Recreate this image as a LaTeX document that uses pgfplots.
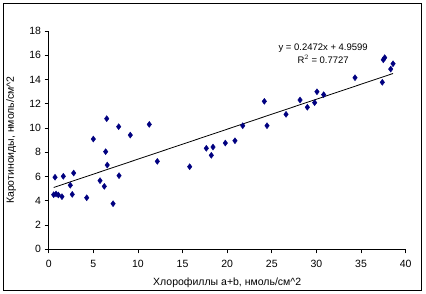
\documentclass[border=0pt]{standalone}
\usepackage{fontspec}
\setmainfont{Liberation Sans}
\usepackage{pgfplots}
\pgfplotsset{compat=1.18}
\definecolor{navy}{RGB}{0,0,128}
\begin{document}
\fontsize{10.5bp}{12bp}\selectfont
\begin{tikzpicture}
\begin{axis}[
  scale only axis,
  width=357bp, height=218.3bp,
  xmin=0, xmax=40, ymin=0, ymax=18,
  xtick={0,5,...,40}, ytick={0,2,...,18},
  axis lines*=left,
  axis line style={line width=0.8bp},
  tick align=outside,
  major tick length=4bp,
  tick style={black, line width=0.8bp},
  /pgf/number format/assume math mode=true,
  ticklabel style={font=\fontsize{10.5bp}{12bp}\selectfont},
  xticklabel style={yshift=-3.5bp},
  label style={font=\fontsize{10.5bp}{12bp}\selectfont},
  every axis x label/.style={at={(axis description cs:0.5,0)}, anchor=center, yshift=-33.7bp},
  every axis y label/.style={at={(axis description cs:0,0.5)}, xshift=-37.5bp, rotate=90, anchor=center},
  xlabel={Хлорофиллы a+b, нмоль/см\textasciicircum 2},
  ylabel={Каротиноиды, нмоль/см\textasciicircum 2},
  clip=false,
]
\addplot[only marks, mark=diamond*, mark size=3bp, color=navy] coordinates {
(0.71,5.94) (1.64,6.02) (2.80,6.29) (2.42,5.28) (0.56,4.50) (0.82,4.56)
(1.08,4.48) (1.49,4.34) (2.64,4.53) (4.26,4.25) (5.00,9.09) (6.50,10.77)
(7.84,10.11) (9.14,9.42) (11.27,10.30) (6.38,8.05) (6.56,6.95) (7.88,6.07)
(5.75,5.66) (6.23,5.19) (7.21,3.76) (12.17,7.25) (15.80,6.81) (17.66,8.33)
(18.41,8.43) (18.22,7.75) (19.79,8.76) (20.87,8.95) (21.74,10.19) (24.16,12.20)
(24.46,10.19) (26.59,11.13) (28.16,12.31) (28.98,11.71) (29.80,12.09) (30.06,12.99)
(30.81,12.75) (34.32,14.15) (37.38,13.77) (37.49,15.63) (37.65,15.80) (38.32,14.86)
(38.58,15.30)
};
\addplot[black, line width=0.8bp] coordinates {(0.56,5.0983) (38.58,14.4969)};
\node[font=\fontsize{9.5bp}{13bp}\selectfont, align=center] at (axis cs:30.75,16.12)
  {y = 0.2472x + 4.9599\\R$^{2}$ = 0.7727};
\end{axis}
\pgfresetboundingbox
\useasboundingbox (-48.7bp,-44.7bp) rectangle (377.3bp,249.3bp);
\draw[line width=0.8bp] (-45.7bp,-40.7bp) rectangle (372.3bp,246.3bp);
\end{tikzpicture}
\end{document}
